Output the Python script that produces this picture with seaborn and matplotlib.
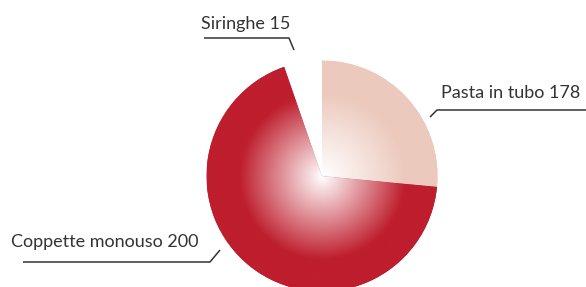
import numpy as np
import matplotlib
matplotlib.use("Agg")
import matplotlib.pyplot as plt
import seaborn as sns

# Data
categories = ["Pasta in tubo", "Coppette monouso", "Siringhe"]
label_values = [178, 200, 15]
# slice shares of the circle as drawn in the picture (percent)
slice_shares = [26.5, 68.2, 5.3]
slice_colors = ["#ecc9bd", "#be1e2d", "#ffffff"]

sns.set_theme(style="white")
plt.rcParams["font.family"] = ["Lato", "DejaVu Sans"]

W, H = 586, 287
cx, cy = 322, 176
R = 115.5
half = 150

fig = plt.figure(figsize=(W / 100, H / 100), dpi=100)
ax = fig.add_axes([(cx - half) / W, (H - cy - half) / H, 2 * half / W, 2 * half / H])

wedges, _ = ax.pie(slice_shares, colors=slice_colors, startangle=90,
                   counterclock=False, radius=R,
                   wedgeprops=dict(linewidth=0, antialiased=True))
ax.set_xlim(-half, half)
ax.set_ylim(-half, half)
ax.set_aspect("equal")
ax.axis("off")

# radial gradients clipped to the coloured slices
n = 400
xs = np.linspace(-R, R, n)
X, Y = np.meshgrid(xs, xs)
rr = np.sqrt(X ** 2 + Y ** 2)
t = np.clip(rr / (0.72 * R), 0, 1)
for wedge, col in zip(wedges[:2], slice_colors[:2]):
    c = np.array(matplotlib.colors.to_rgb(col))
    img = np.ones((n, n, 3)) * (1 - t[..., None]) + c * t[..., None]
    im = ax.imshow(img, extent=[-R, R, -R, R], origin="lower", zorder=3,
                   interpolation="bilinear")
    im.set_clip_path(wedge)

def px(x, y):
    return (x - cx, cy - y)

txt_col = "#333333"
fs = 13

# Siringhe label
ax.text(*px(201, 29), f"{categories[2]} {label_values[2]}", fontsize=fs,
        color=txt_col, ha="left", va="baseline", clip_on=False)
ax.plot(*zip(px(204, 38), px(289, 38), px(294, 50)), color=txt_col, lw=1.1,
        clip_on=False, solid_capstyle="butt")

# Pasta label
ax.text(*px(441, 98), f"{categories[0]} {label_values[0]}", fontsize=fs,
        color=txt_col, ha="left", va="baseline", clip_on=False)
ax.plot(*zip(px(430, 117), px(437, 110), px(586, 110)), color=txt_col, lw=1.1,
        clip_on=False, solid_capstyle="butt")

# Coppette label
ax.text(*px(11, 247), f"{categories[1]} {label_values[1]}", fontsize=fs,
        color=txt_col, ha="left", va="baseline", clip_on=False)
ax.plot(*zip(px(23, 262), px(210, 262), px(220, 250)), color=txt_col, lw=1.1,
        clip_on=False, solid_capstyle="butt")

fig.savefig("out.png", dpi=100)
